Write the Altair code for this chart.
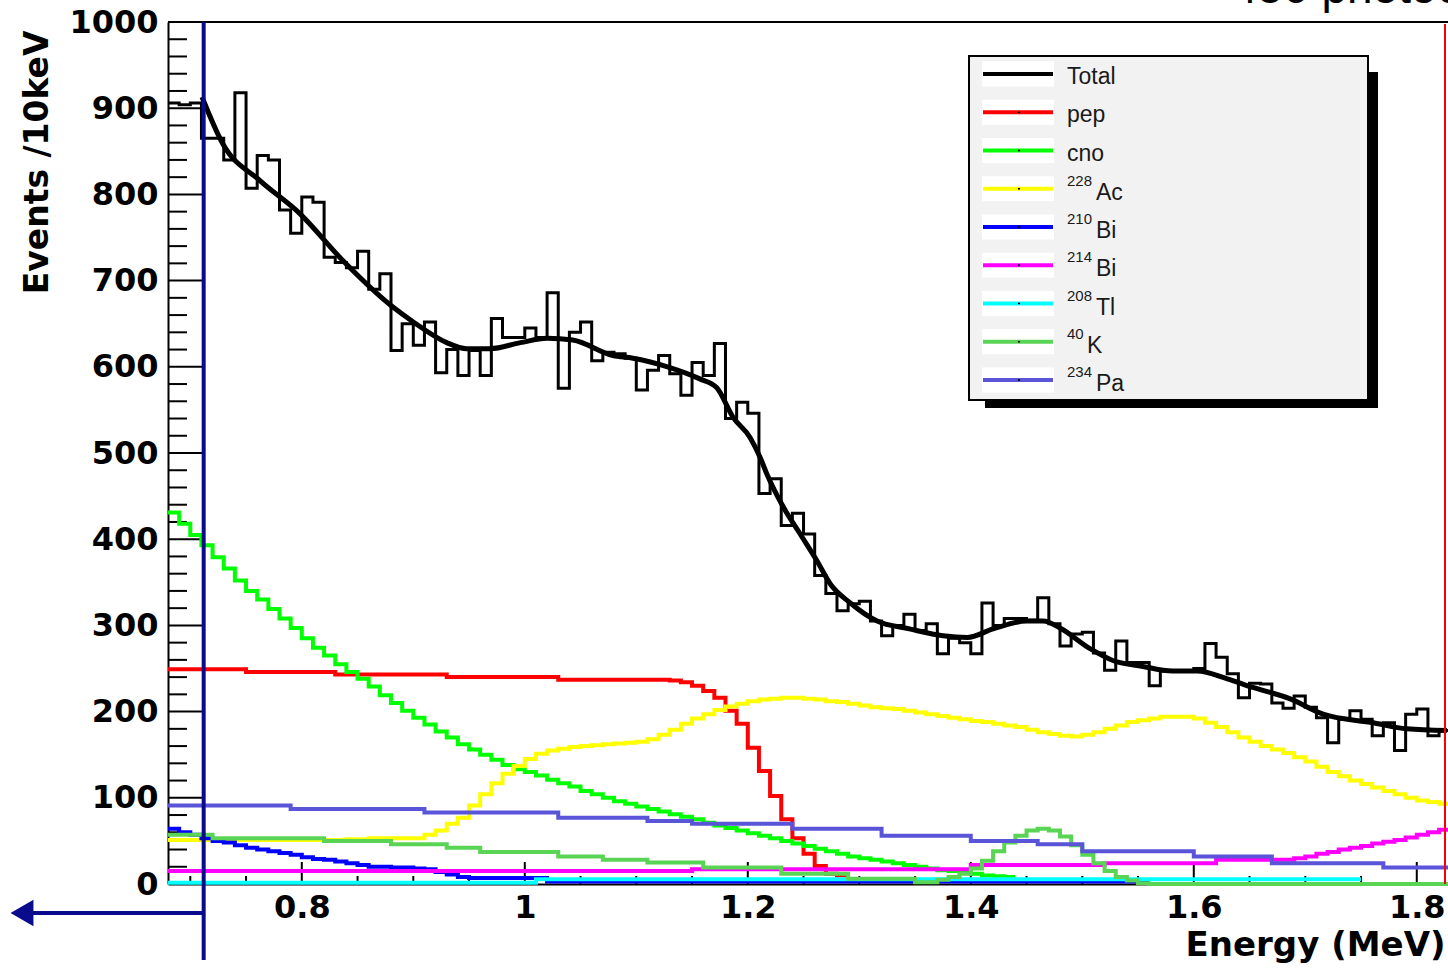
import altair as alt
import pandas as pd

# ---------------- data ----------------
E_START = 0.68        # lower edge of first bin (MeV)
BIN_W = 0.01          # 10 keV bins

DATA_COUNTS = [906, 904, 906, 865, 865, 840, 918, 807, 845, 840,
               782, 755, 797, 791, 727, 721, 715, 734, 690, 708,
               619, 650, 625, 652, 593, 620, 590, 619, 590, 656,
               634, 634, 645, 634, 686, 575, 640, 652, 607, 617,
               615, 610, 573, 596, 613, 592, 567, 605, 590, 627,
               540, 559, 546, 453, 470, 416, 430, 406, 358, 337,
               317, 325, 328, 305, 288, 300, 313, 294, 302, 267,
               285, 280, 267, 326, 300, 308, 308, 306, 332, 302,
               276, 290, 292, 268, 248, 282, 257, 257, 230, 247,
               247, 247, 250, 279, 263, 244, 216, 233, 232, 210,
               204, 218, 205, 193, 164, 191, 201, 191, 172, 187,
               155, 197, 203, 172, 178]

FIT_E = [0.7105, 0.729, 0.7625, 0.798, 0.837, 0.882, 0.900, 0.930, 0.948, 0.969,
         0.996, 1.020, 1.043, 1.079, 1.097, 1.128, 1.157, 1.172, 1.187, 1.202,
         1.211, 1.217, 1.232, 1.247, 1.262, 1.274, 1.292, 1.316, 1.345, 1.375,
         1.397, 1.420, 1.450, 1.465, 1.480, 1.507, 1.528, 1.552, 1.581, 1.603,
         1.630, 1.653, 1.686, 1.716, 1.761, 1.791, 1.827]
FIT_V = [913, 859, 816, 778, 723, 669, 652, 628, 621, 621,
         628, 633, 631, 613, 610, 600, 586, 576, 541, 518,
         495, 476, 437, 406, 375, 348, 326, 305, 296, 288,
         286, 296, 305, 305, 297, 273, 259, 253, 247, 247,
         238, 228, 215, 197, 187, 180, 178]

# per-bin components (start at E_START)
CNO_COUNTS = [431, 418, 405, 393, 379, 366, 352, 340, 330, 319,
              308, 297, 285, 274, 265, 255, 246, 238, 229, 219,
              210, 201, 193, 185, 177, 170, 162, 156, 150, 144,
              138, 133, 130, 126, 121, 117, 113, 108, 104, 100,
              96, 93, 90, 87, 84, 81, 78, 75, 71, 68,
              65, 62, 59, 56, 53, 50, 47, 44, 41, 38,
              35, 32, 30, 28, 26, 24, 22, 20, 18, 16,
              15, 13, 12, 10, 9, 8]

AC228_COUNTS = [51, 51, 51, 51, 51, 51, 51, 51, 51, 51, 51, 51, 51, 51, 51, 51,
                52, 52, 53, 53, 53, 53,
                53, 57, 62, 70, 77, 91, 104, 117, 128, 137,
                145, 151, 155, 157, 159, 160, 161, 162, 163, 164,
                165, 168, 173, 179, 186, 192, 197, 202, 206, 209,
                212, 214, 215, 216, 216, 215, 214, 212, 211, 209,
                207, 205, 204, 203, 201, 199, 197, 195, 193, 191,
                189, 188, 186, 184, 182, 179, 176, 174, 172, 171,
                173, 176, 180, 184, 188, 190, 192, 194, 194, 194,
                192, 187, 182, 176, 170, 165, 160, 156, 152, 147,
                142, 136, 130, 125, 120, 116, 112, 108, 104, 100,
                97, 95, 93]

# run-length components: step start edges, values, end edge
PEP_EDGES = [0.68, 0.75, 0.83, 0.93, 1.03, 1.13, 1.14, 1.15, 1.16, 1.17, 1.18,
             1.19, 1.20, 1.21, 1.22, 1.23, 1.24, 1.25, 1.26, 1.27, 1.28]
PEP_VALUES = [249, 246, 243, 240, 237, 236, 234, 230, 224, 216, 201,
              186, 158, 131, 102, 75, 53, 35, 21, 12, 10]
PEP_END = 1.29

BI210_EDGES = [0.68, 0.69, 0.70, 0.71, 0.72, 0.73, 0.74, 0.75, 0.76, 0.77, 0.78,
               0.79, 0.80, 0.81, 0.82, 0.83, 0.84, 0.85, 0.86, 0.88, 0.90, 0.91,
               0.92, 0.93, 0.94, 0.95, 1.02]
BI210_VALUES = [64, 60, 57, 53, 50, 48, 45, 42, 40, 38, 36,
                34, 31, 29, 28, 26, 24, 22, 20, 19, 18, 17,
                14, 11, 8, 7, 3]
BI210_END = 1.56

BI214_EDGES = [0.68, 1.15, 1.40, 1.52, 1.62, 1.69, 1.70, 1.71, 1.72, 1.73, 1.74,
               1.75, 1.76, 1.77, 1.78, 1.79, 1.80, 1.81, 1.82]
BI214_VALUES = [15, 17, 22, 24, 28, 30, 32, 35, 37, 40, 42,
                44, 47, 49, 51, 54, 57, 60, 63]
BI214_END = 1.83

TL208_EDGES = [0.68, 1.01]
TL208_VALUES = [1.5, 5.5]
TL208_END = 1.75

K40_EDGES = [0.68, 0.72, 0.82, 0.88, 0.93, 0.96, 1.03, 1.07, 1.11, 1.16, 1.23,
             1.29, 1.35, 1.37, 1.38, 1.39, 1.40, 1.41, 1.42, 1.43, 1.44, 1.45,
             1.46, 1.47, 1.48, 1.49, 1.50, 1.51, 1.52, 1.53, 1.54, 1.55, 1.56]
K40_VALUES = [57, 53, 50, 46, 42, 37, 32, 28, 25, 19, 12,
              6, 2, 5, 8, 12, 18, 27, 38, 48, 56, 62,
              64, 62, 55, 45, 34, 24, 15, 8, 4, 1, 0]
K40_END = 1.83

PA234_EDGES = [0.68, 0.79, 0.91, 1.03, 1.11, 1.15, 1.24, 1.32, 1.40, 1.46, 1.50,
               1.60, 1.67, 1.77]
PA234_VALUES = [91, 87, 83, 77, 73, 70, 64, 56, 50, 46, 38, 32, 24, 19]
PA234_END = 1.83

LEGEND_SUP = ["", "", "", "228", "210", "214", "208", "40", "234"]
LEGEND_BASE = ["Total", "pep", "cno", "Ac", "Bi", "Bi", "Tl", "K", "Pa"]
LEGEND_COLORS = ["#000000", "#ff0000", "#00ff00", "#ffff00", "#0000ff",
                 "#ff00ff", "#00ffff", "#59d454", "#5954d8"]

X_MAJOR = [0.8, 1.0, 1.2, 1.4, 1.6, 1.8]
X_MINOR = [0.70, 0.75, 0.85, 0.90, 0.95, 1.05, 1.10, 1.15, 1.25, 1.30, 1.35,
           1.45, 1.50, 1.55, 1.65, 1.70, 1.75]
Y_MAJOR = [0, 100, 200, 300, 400, 500, 600, 700, 800, 900, 1000]
Y_MINOR = [v for v in range(20, 1000, 20) if v % 100 != 0]

FIT_START_MARK = 0.712   # vertical marker line position (MeV)

# ---------------- helpers ----------------
def run_length(edges, values, end):
    rows = [{"E": e, "v": v} for e, v in zip(edges, values)]
    rows.append({"E": end, "v": values[-1]})
    return pd.DataFrame(rows)


def per_bin(values):
    edges = [round(E_START + BIN_W * i, 4) for i in range(len(values))]
    last = round(E_START + BIN_W * len(values), 4)
    return run_length(edges, values, last)


XS = alt.Scale(domain=[0.68, 1.828], nice=False, zero=False)
YS = alt.Scale(domain=[0, 1000], nice=False, zero=False)
FONT_B = "DejaVu Sans"

XAXIS = alt.Axis(values=X_MAJOR, format=".1~f", ticks=False, grid=False,
                 domain=True, domainColor="black", domainWidth=2,
                 labelFont=FONT_B, labelFontWeight="bold", labelFontSize=32,
                 labelColor="black", labelPadding=8, labelOverlap=False,
                 labelFlush=False,
                 title="Energy (MeV)", titleFont=FONT_B, titleFontWeight="bold",
                 titleFontSize=34, titleColor="black", titleX=1277, titleY=71,
                 titleAlign="right", titleBaseline="alphabetic")
YAXIS = alt.Axis(values=Y_MAJOR, format="d", ticks=False, grid=False,
                 domain=True, domainColor="black", domainWidth=2,
                 labelFont=FONT_B, labelFontWeight="bold", labelFontSize=32,
                 labelColor="black", labelPadding=10, labelOverlap=False,
                 labelFlush=False,
                 title="Events /10keV", titleFont=FONT_B, titleFontWeight="bold",
                 titleFontSize=33, titleColor="black", titleX=-131, titleY=8,
                 titleAngle=270, titleAlign="right", titleBaseline="middle")


def XE():
    return alt.X("E:Q", scale=XS, axis=XAXIS)


def YV():
    return alt.Y("v:Q", scale=YS, axis=YAXIS)


def step_layer(df, color, width=4):
    return alt.Chart(df).mark_line(interpolate="step-after", color=color,
                                   strokeWidth=width, strokeCap="butt").encode(x=XE(), y=YV())


# ---------------- main plot layers ----------------
one = pd.DataFrame({"a": [1]})

ymaj = alt.Chart(pd.DataFrame({"v": Y_MAJOR[1:-1]})).mark_rule(color="black", strokeWidth=2).encode(
    y=YV(), x=alt.value(0), x2=alt.value(37))
ymin = alt.Chart(pd.DataFrame({"v": Y_MINOR})).mark_rule(color="black", strokeWidth=2).encode(
    y=YV(), x=alt.value(0), x2=alt.value(19))
xmaj = alt.Chart(pd.DataFrame({"E": X_MAJOR})).mark_rule(color="black", strokeWidth=2).encode(
    x=XE(), y=alt.value(862), y2=alt.value(840))
xmin = alt.Chart(pd.DataFrame({"E": X_MINOR})).mark_rule(color="black", strokeWidth=2).encode(
    x=XE(), y=alt.value(862), y2=alt.value(854))

top_frame = alt.Chart(one).mark_rule(color="black", strokeWidth=2).encode(
    x=alt.value(0), x2=alt.value(1280), y=alt.value(0))

data_hist = step_layer(per_bin(DATA_COUNTS), "black", 3)

comps = [
    step_layer(run_length(PEP_EDGES, PEP_VALUES, PEP_END), LEGEND_COLORS[1]),
    step_layer(per_bin(CNO_COUNTS), LEGEND_COLORS[2]),
    step_layer(per_bin(AC228_COUNTS), LEGEND_COLORS[3]),
    step_layer(run_length(BI210_EDGES, BI210_VALUES, BI210_END), LEGEND_COLORS[4]),
    step_layer(run_length(BI214_EDGES, BI214_VALUES, BI214_END), LEGEND_COLORS[5]),
    step_layer(run_length(TL208_EDGES, TL208_VALUES, TL208_END), LEGEND_COLORS[6]),
    step_layer(run_length(K40_EDGES, K40_VALUES, K40_END), LEGEND_COLORS[7]),
    step_layer(run_length(PA234_EDGES, PA234_VALUES, PA234_END), LEGEND_COLORS[8]),
]

fit = alt.Chart(pd.DataFrame({"E": FIT_E, "v": FIT_V})).mark_line(
    interpolate="monotone", color="black", strokeWidth=5).encode(x=XE(), y=YV())

marker = alt.Chart(pd.DataFrame({"E": [FIT_START_MARK]})).mark_rule(
    color="#0a0a8c", strokeWidth=4).encode(x=XE(), y=alt.value(0), y2=alt.value(938))

arrow_line = alt.Chart(one).mark_rule(color="#0a0a8c", strokeWidth=4).encode(
    x=alt.value(-146), x2=alt.value(36), y=alt.value(891))
arrow_head = alt.Chart(one).mark_point(
    shape="triangle-left", filled=True, color="#0a0a8c", opacity=1, size=700).encode(
    x=alt.value(-146), y=alt.value(891))

red_edge = alt.Chart(one).mark_rule(color="#ff0000", strokeWidth=2).encode(
    x=alt.value(1277), y=alt.value(2), y2=alt.value(862))

top_text = alt.Chart(pd.DataFrame({"t": ["450 photoelectrons"]})).mark_text(
    align="left", baseline="alphabetic", font="Liberation Sans", fontSize=46, color="black").encode(
    x=alt.value(1064), y=alt.value(-19), text="t:N")

main = alt.layer(ymaj, ymin, xmaj, xmin, top_frame, data_hist, *comps, fit,
                 marker, arrow_line, arrow_head, red_edge, top_text)

# ---------------- legend (own y scale) ----------------
leg_df = pd.DataFrame({"sup": LEGEND_SUP, "base": LEGEND_BASE, "color": LEGEND_COLORS,
                       "row": list(range(len(LEGEND_BASE)))})
leg_df["nsup"] = leg_df["sup"].str.len()
LY = alt.Y("row:Q", scale=alt.Scale(domain=[0, 8], range=[52, 358]), axis=None)

shadow = alt.Chart(one).mark_rect(color="black").encode(
    x=alt.value(817), x2=alt.value(1210), y=alt.value(50), y2=alt.value(386))
box = alt.Chart(one).mark_rect(fill="#f2f2f2", stroke="black", strokeWidth=2).encode(
    x=alt.value(801), x2=alt.value(1200), y=alt.value(34), y2=alt.value(378))
bands = alt.Chart(leg_df).mark_rule(color="white", strokeWidth=25).encode(
    x=alt.value(814), x2=alt.value(886), y=LY)
leg_lines = alt.Chart(leg_df).mark_rule(strokeWidth=4).encode(
    x=alt.value(815), x2=alt.value(885), y=LY, color=alt.Color("color:N", scale=None))
dots = alt.Chart(leg_df[leg_df["row"] > 0]).mark_point(
    filled=True, color="black", size=5, opacity=1).encode(x=alt.value(851), y=LY)

TXT = dict(align="left", baseline="alphabetic", font="Liberation Sans", color="#1a1a1a")
plain_txt = alt.Chart(leg_df[leg_df["nsup"] == 0]).mark_text(fontSize=23, dy=10, **TXT).encode(
    x=alt.value(899), y=LY, text="base:N")
sup_txt = alt.Chart(leg_df[leg_df["nsup"] > 0]).mark_text(fontSize=15, dy=-3, **TXT).encode(
    x=alt.value(899), y=LY, text="sup:N")
base3_txt = alt.Chart(leg_df[leg_df["nsup"] == 3]).mark_text(fontSize=23, dy=11, **TXT).encode(
    x=alt.value(928), y=LY, text="base:N")
base2_txt = alt.Chart(leg_df[leg_df["nsup"] == 2]).mark_text(fontSize=23, dy=11, **TXT).encode(
    x=alt.value(919), y=LY, text="base:N")

legend = alt.layer(shadow, box, bands, leg_lines, dots, plain_txt, sup_txt, base3_txt, base2_txt)

chart = alt.layer(main, legend).resolve_scale(y="independent").properties(
    width=1280, height=862,
    padding={"left": 168, "top": 22, "right": 0, "bottom": 85},
    autosize=alt.AutoSizeParams(type="none"),
    background="white",
).configure_view(stroke=None)

chart.save("out.html", embed_options={"renderer": "svg", "actions": False})
